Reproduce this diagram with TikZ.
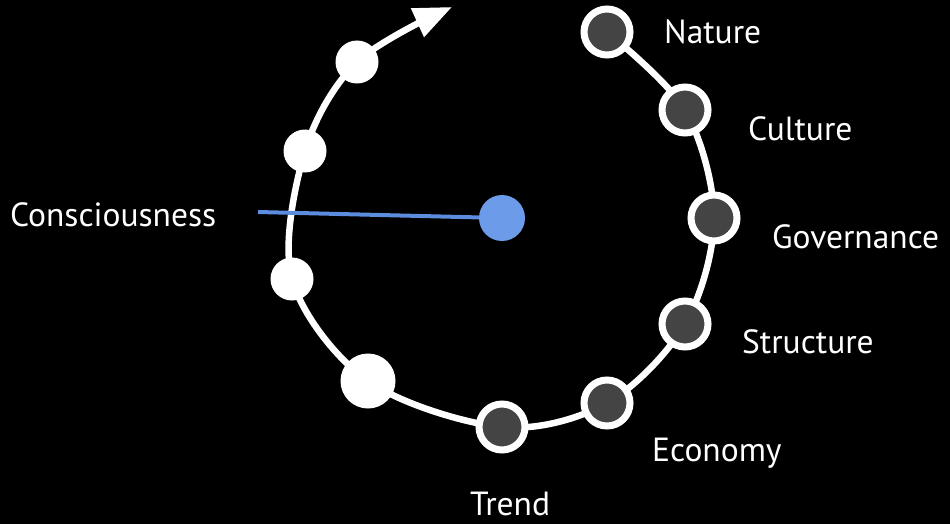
\documentclass[tikz,border=0pt]{standalone}
\usepackage{fontspec}
\setmainfont{PT Sans}
\usetikzlibrary{arrows.meta}
\definecolor{dotgray}{HTML}{444444}
\definecolor{coreblue}{HTML}{6C9CE9}
\definecolor{lineblue}{HTML}{5B8CDD}
\tikzset{
  topic/.style={circle,draw=white,line width=7pt,fill=dotgray,minimum size=46pt,inner sep=0pt},
  step dot/.style={circle,fill=white,minimum size=43pt,inner sep=0pt},
  label text/.style={text=white,anchor=base west,inner sep=0pt,font=\fontsize{33.5}{38}\selectfont}
}
\begin{document}
\begin{tikzpicture}[x=1pt,y=-1pt]
    \fill[black] (0,0) rectangle (950,524);
    \coordinate (nat) at (607,32);
    \coordinate (cul) at (685,110);
    \coordinate (gov) at (714,218);
    \coordinate (str) at (685,324);
    \coordinate (eco) at (607,403);
    \coordinate (tre) at (502,427);
    \coordinate (w1) at (368,381);
    \coordinate (w2) at (292,279);
    \coordinate (w3) at (305,151);
    \coordinate (w4) at (357,62);
    \coordinate (tip) at (452,7);
    % the loop
    \draw[white,line width=6.5pt,-{Triangle[length=38pt,width=30pt]}]
        plot[smooth,tension=0.55] coordinates {(nat) (cul) (gov) (str) (eco) (tre) (w1) (w2) (w3) (w4) (tip)};
    \node[topic] (n1) at (nat) {};
    \node[topic] (n2) at (cul) {};
    \node[topic] (n3) at (gov) {};
    \node[topic] (n4) at (str) {};
    \node[topic] (n5) at (eco) {};
    \node[topic] (n6) at (tre) {};
    \node[step dot,minimum size=55pt] (s1) at (w1) {};
    \node[step dot] (s2) at (w2) {};
    \node[step dot] (s3) at (w3) {};
    \node[step dot] (s4) at (w4) {};
    % labels
    \node[label text] (l1) at (664,44) {Nature};
    \node[label text] (l2) at (748,141) {Culture};
    \node[label text] (l3) at (772,248) {Governance};
    \node[label text] (l4) at (742,353) {Structure};
    \node[label text] (l5) at (652,461) {Economy};
    \node[label text] (l6) at (470,515) {Trend};
    \node[label text] (l7) at (10,226) {Consciousness};
    % centre
    \node[circle,fill=coreblue,minimum size=46pt,inner sep=0pt] (core) at (502,218) {};
    \coordinate (cstart) at (258,212);
    \draw[lineblue,line width=4pt] (cstart) -- (core);
\end{tikzpicture}
\end{document}
